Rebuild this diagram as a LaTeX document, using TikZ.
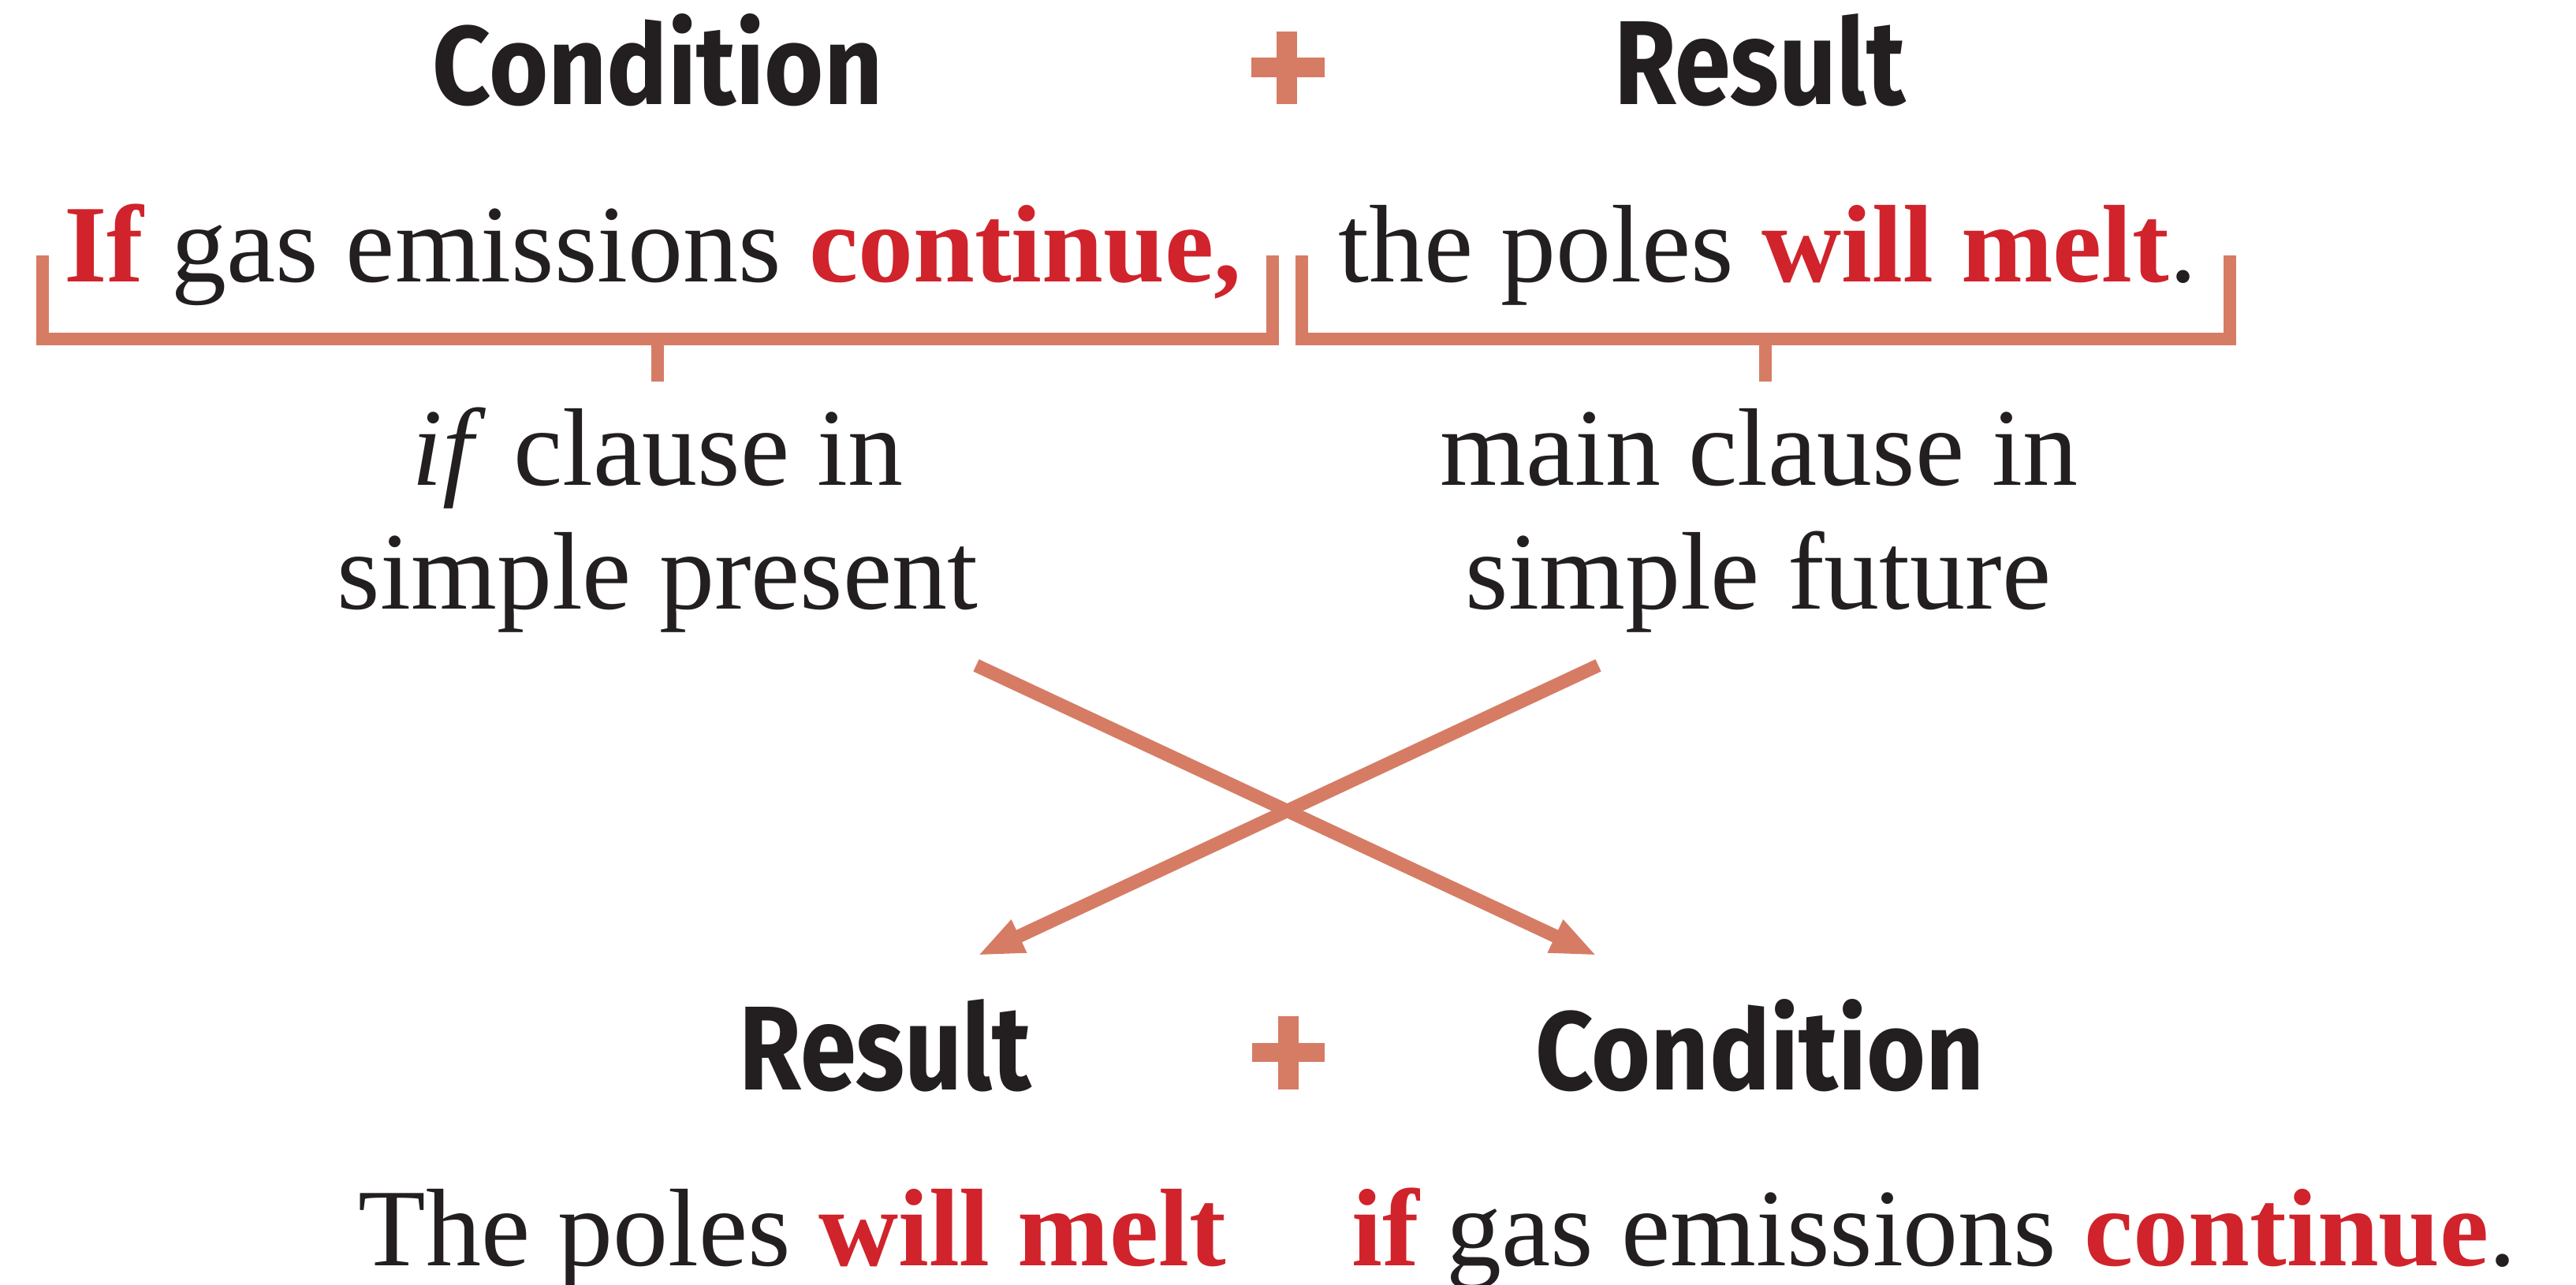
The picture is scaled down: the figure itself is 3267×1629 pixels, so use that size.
\documentclass[tikz,border=0pt]{standalone}
\usepackage{fontspec}
\setmainfont{Liberation Serif}
\newfontfamily\hfont{Fira Sans}
\usepackage{graphicx}
\usetikzlibrary{arrows.meta}
\definecolor{brk}{RGB}{214,124,101}
\definecolor{redw}{RGB}{208,35,43}
\definecolor{ink}{RGB}{35,31,32}
\newcommand\rw[1]{\textcolor{redw}{\bfseries #1}}
\newcommand\hd[3]{\resizebox{#2}{#3}{\hfont\bfseries #1}}
\begin{document}
\begin{tikzpicture}[x=0.25pt,y=-0.25pt,
  body/.style={font=\fontsize{35}{42}\selectfont, text=ink, inner sep=0pt, anchor=base},
  hdr/.style={text=ink, inner sep=0pt, anchor=base},
  brkline/.style={draw=brk, line width=4pt, line join=miter, line cap=butt},
  arr/.style={draw=brk, line width=4.25pt, -{Triangle[length=14.5pt,width=10.5pt]}}]
\useasboundingbox (0,0) rectangle (3267,1629);
\fill[white] (0,0) rectangle (3267,1629);

% headers
\node[hdr] (c1) at (834,132) {\hd{Condition}{142.75pt}{28.75pt}};
\node[hdr] (r1) at (2232,132) {\hd{Result}{92.25pt}{28.75pt}};
\node[hdr] (r2) at (1123,1382) {\hd{Result}{92.5pt}{28.75pt}};
\node[hdr] (c2) at (2232,1382) {\hd{Condition}{142.25pt}{28.75pt}};

% plus signs
\fill[brk] (1619,40) rectangle (1645,132);
\fill[brk] (1587,73) rectangle (1680,98);
\fill[brk] (1621,1289) rectangle (1647,1382);
\fill[brk] (1588,1323) rectangle (1680,1347);

% sentence 1
\node[body] (s1a) at (828,357) {\rw{If} gas emissions \rw{continue,}};
\node[body] (s1b) at (2242,357) {the poles \rw{will melt}.};

% brackets
\draw[brkline] (54,324) -- (54,430) -- (1614,430) -- (1614,324);
\draw[brkline] (1651,324) -- (1651,430) -- (2828,430) -- (2828,324);
\coordinate (t1a) at (834,430);
\coordinate (t1b) at (834,484);
\coordinate (t2a) at (2239,430);
\coordinate (t2b) at (2239,484);
\draw[brkline] (t1a) -- (t1b);
\draw[brkline] (t2a) -- (t2b);

% labels
\node[body] (lab1) at (834,615) {\textit{if} clause in};
\node[body] (lab2) at (834,772) {simple present};
\node[body] (lab3) at (2231,615) {main clause in};
\node[body] (lab4) at (2230,772) {simple future};

% arrows
\coordinate (a1s) at (1238,844);
\coordinate (a1e) at (2025,1212);
\coordinate (a2s) at (2027,844);
\coordinate (a2e) at (1240,1212);
\draw[arr] (a1s) -- (a1e);
\draw[arr] (a2s) -- (a2e);

% sentence 2
\node[body] (s2a) at (1005,1605) {The poles \rw{will melt}};
\node[body] (s2b) at (2453,1605) {\rw{if} gas emissions \rw{continue}.};
\end{tikzpicture}
\end{document}
